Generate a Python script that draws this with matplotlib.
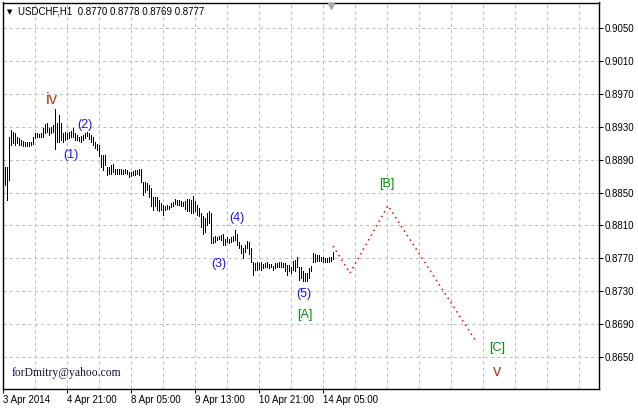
import numpy as np
import matplotlib
matplotlib.use('Agg')
import matplotlib.pyplot as plt

# hourly bars, USDCHF H1 (high / low)
highs = [0.8881, 0.8881, 0.8918, 0.8926, 0.8924, 0.8922, 0.8918, 0.8916, 0.8914, 0.8913,
         0.8912, 0.8911, 0.8911, 0.8912, 0.8917, 0.8922, 0.8922, 0.8921, 0.8922, 0.8928,
         0.8933, 0.8934, 0.8928, 0.8930, 0.8932, 0.8951, 0.8934, 0.8944, 0.8935, 0.8922,
         0.8924, 0.8922, 0.8924, 0.8925, 0.8928, 0.8922, 0.8920, 0.8918, 0.8919, 0.8920,
         0.8922, 0.8924, 0.8922, 0.8920, 0.8917, 0.8912, 0.8909, 0.8908, 0.8896, 0.8896,
         0.8896, 0.8881, 0.8881, 0.8883, 0.8885, 0.8879, 0.8878, 0.8878, 0.8878, 0.8877,
         0.8878, 0.8877, 0.8875, 0.8875, 0.8876, 0.8877, 0.8877, 0.8878, 0.8879, 0.8863,
         0.8863, 0.8861, 0.8859, 0.8855, 0.8845, 0.8845, 0.8845, 0.8841, 0.8837, 0.8835,
         0.8834, 0.8835, 0.8834, 0.8837, 0.8838, 0.8842, 0.8841, 0.8841, 0.8840, 0.8839,
         0.8840, 0.8842, 0.8842, 0.8841, 0.8846, 0.8840, 0.8835, 0.8831, 0.8825, 0.8821,
         0.8819, 0.8825, 0.8827, 0.8825, 0.8796, 0.8797, 0.8796, 0.8797, 0.8798, 0.8800,
         0.8794, 0.8796, 0.8794, 0.8796, 0.8797, 0.8804, 0.8800, 0.8790, 0.8786, 0.8782,
         0.8786, 0.8791, 0.8790, 0.8782, 0.8766, 0.8764, 0.8765, 0.8764, 0.8765, 0.8763,
         0.8764, 0.8765, 0.8763, 0.8763, 0.8761, 0.8764, 0.8764, 0.8765, 0.8765, 0.8764,
         0.8764, 0.8762, 0.8762, 0.8760, 0.8767, 0.8768, 0.8771, 0.8760, 0.8760, 0.8754,
         0.8752, 0.8752, 0.8758, 0.8761, 0.8776, 0.8775, 0.8774, 0.8774, 0.8772, 0.8771,
         0.8770, 0.8770, 0.8772, 0.8772, 0.8778]
lows = [0.8859, 0.8841, 0.8865, 0.8908, 0.8910, 0.8908, 0.8910, 0.8908, 0.8908, 0.8907,
        0.8907, 0.8906, 0.8907, 0.8908, 0.8909, 0.8916, 0.8917, 0.8917, 0.8917, 0.8918,
        0.8922, 0.8924, 0.8920, 0.8922, 0.8924, 0.8903, 0.8912, 0.8912, 0.8914, 0.8912,
        0.8914, 0.8915, 0.8916, 0.8917, 0.8917, 0.8914, 0.8914, 0.8913, 0.8912, 0.8914,
        0.8916, 0.8919, 0.8915, 0.8912, 0.8908, 0.8904, 0.8902, 0.8894, 0.8881, 0.8877,
        0.8883, 0.8871, 0.8873, 0.8873, 0.8875, 0.8873, 0.8873, 0.8872, 0.8873, 0.8873,
        0.8874, 0.8873, 0.8869, 0.8870, 0.8871, 0.8871, 0.8872, 0.8871, 0.8863, 0.8847,
        0.8851, 0.8853, 0.8845, 0.8833, 0.8829, 0.8833, 0.8829, 0.8827, 0.8829, 0.8823,
        0.8829, 0.8830, 0.8830, 0.8832, 0.8834, 0.8836, 0.8835, 0.8835, 0.8834, 0.8833,
        0.8830, 0.8828, 0.8827, 0.8825, 0.8825, 0.8827, 0.8823, 0.8821, 0.8808, 0.8800,
        0.8802, 0.8810, 0.8813, 0.8788, 0.8788, 0.8790, 0.8792, 0.8793, 0.8792, 0.8786,
        0.8786, 0.8790, 0.8789, 0.8790, 0.8791, 0.8792, 0.8786, 0.8782, 0.8776, 0.8770,
        0.8778, 0.8782, 0.8775, 0.8766, 0.8750, 0.8756, 0.8756, 0.8757, 0.8756, 0.8758,
        0.8759, 0.8760, 0.8758, 0.8759, 0.8756, 0.8758, 0.8759, 0.8760, 0.8760, 0.8759,
        0.8754, 0.8750, 0.8755, 0.8752, 0.8756, 0.8754, 0.8759, 0.8744, 0.8746, 0.8742,
        0.8742, 0.8742, 0.8746, 0.8754, 0.8765, 0.8766, 0.8767, 0.8767, 0.8767, 0.8766,
        0.8766, 0.8765, 0.8765, 0.8767, 0.8769]

# forecast path (bar position, price)
path_x = [165, 173.5, 192.5, 236]
path_y = [0.8785, 0.8752, 0.8834, 0.8671]

# wave labels
wave_text = ['iv', '(1)', '(2)', '(3)', '(4)', '(5)', '[A]', '[B]', '[C]', 'v']
wave_x = [24.5, 34, 41, 108, 117, 150.5, 151, 192, 247, 247]
wave_y = [0.8963, 0.8896, 0.8932, 0.8763, 0.8819, 0.8727, 0.8701, 0.8860, 0.8661, 0.8632]
wave_kind = ['big', 'minor', 'minor', 'minor', 'minor', 'minor', 'inter', 'inter', 'inter', 'big']

time_labels = ['3 Apr 2014', '4 Apr 21:00', '8 Apr 05:00', '9 Apr 13:00',
               '10 Apr 21:00', '14 Apr 05:00']
price_ticks = [0.8650, 0.8690, 0.8730, 0.8770, 0.8810, 0.8850,
               0.8890, 0.8930, 0.8970, 0.9010, 0.9050]

colors = {'big': '#b8401c', 'minor': '#1515ff', 'inter': '#0a8a0a'}
sizes = {'big': 12, 'minor': 9, 'inter': 9}

fig = plt.figure(figsize=(6.38, 4.08), dpi=100)
ax = fig.add_axes([3/638, 1 - 389/408, 596/638, 386.5/408])
ax.set_xlim(0, 298)
ax.set_ylim(0.86111, 0.90810)

# grid, MT4 style
for gx in range(16, 298, 16):
    ax.axvline(gx, color='#c0c0c0', lw=0.75, ls=(0, (3, 3)), zorder=0)
for gy in price_ticks:
    ax.axhline(gy, color='#c0c0c0', lw=0.75, ls=(0, (3, 3)), zorder=0)

pos = np.arange(1, len(highs) + 1)
ax.vlines(pos, lows, highs, color='black', lw=0.6, antialiased=False, zorder=3)

ax.plot(path_x, path_y, color='red', lw=1.1, ls=(0, (1, 2.5)), zorder=3)

for t, x, y, k in zip(wave_text, wave_x, wave_y, wave_kind):
    ax.text(x, y, t, color=colors[k], fontsize=sizes[k], ha='center', va='center',
            family='Liberation Sans', zorder=4)

ax.text(2, 0.90695, '\u25bc', fontsize=5, family='DejaVu Sans', va='center', ha='left')
ax.text(7.5, 0.90695, 'USDCHF,H1  0.8770 0.8778 0.8769 0.8777', fontsize=7,
        family='Liberation Sans', va='center', ha='left')
ax.text(4.5, 0.86304, 'forDmitry@yahoo.com', fontsize=8.4, family='Liberation Serif',
        color='#14143c', va='center', ha='left')

# shift marker on top
ax.plot([164], [0.9077], marker='v', color='#a8a8a8', ms=4.5, clip_on=False, zorder=5)

ax.yaxis.tick_right()
ax.set_yticks(price_ticks)
ax.set_yticklabels(['%.4f' % p for p in price_ticks], fontsize=7, family='Liberation Sans')
ax.set_xticks([0, 32, 64, 96, 128, 160])
ax.set_xticklabels(time_labels, fontsize=7, family='Liberation Sans', ha='left')
ax.tick_params(axis='both', direction='out', length=3, width=0.75, pad=1)

for s in ax.spines.values():
    s.set_linewidth(1)
    s.set_color('black')

fig.savefig('out.png', dpi=100)
